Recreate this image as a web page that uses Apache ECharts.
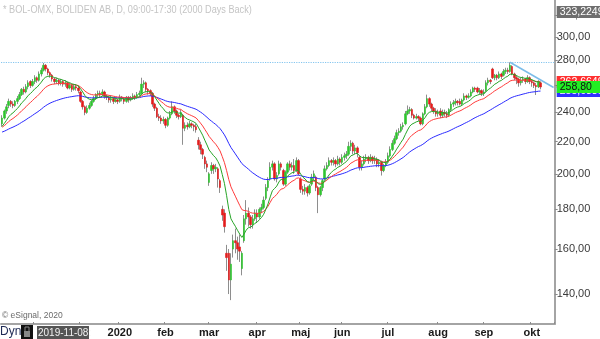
<!DOCTYPE html>
<html>
<head>
<meta charset="utf-8">
<script src="https://cdn.jsdelivr.net/npm/echarts@6/dist/echarts.min.js"></script>
<style>
  html, body { margin: 0; padding: 0; background: #fff; }
  #chart { width: 600px; height: 339px; }
</style>
</head>
<body>
<div id="chart"></div>
<script>
// BOLIDEN AB (BOL-OMX), daily candles: [open, close, low, high], one array per month
const oct2019 = [
  [232,236,230,238],[236,241,235,242],[241,244,239,246],[245,248,243,250],[248,246,244,249],
  [246,245,243,248],[245,248,244,249],[248,250,246,252],[250,253,249,255],[253,257,252,258],
  [257,255,253,259],[255,259,254,261],[259,262,257,264],[263,260,258,264],[260,263,259,265]
];
const nov2019 = [
  [263,266,261,268],[266,264,262,267],[264,269,263,271],[269,272,267,274],[272,276,271,278],
  [276,273,271,277],[273,270,268,274],[270,268,266,271],[268,265,263,269],[265,263,261,266],
  [263,264,261,266],[264,262,260,265],[262,263,260,265],[263,261,259,264],[261,262,259,264],
  [262,258,257,263],[258,260,257,262],[260,257,255,261],[257,259,256,261],[259,258,256,261],
  [258,256,254,260]
];
const dec2019 = [
  [255,248,247,256],[248,244,242,249],[244,240,238,245],[240,243,239,245],[243,245,242,247],
  [245,248,244,249],[248,250,247,252],[250,253,249,254],[253,254,251,256],[254,253,251,256],
  [253,255,252,257],[255,252,250,256],[252,251,249,253],[251,249,247,252],[249,250,247,252],
  [250,248,246,251],[248,249,247,251],[249,248,246,250]
];
const jan2020 = [
  [248,251,247,253],[251,250,248,252],[250,248,246,251],[248,251,247,252],[251,249,247,252],
  [249,250,248,252],[250,252,249,254],[252,251,249,253],[251,253,250,255],[253,254,252,256],
  [254,261,253,266],[261,262,258,264],[262,257,255,263],[257,256,253,258],[256,254,252,257],
  [254,246,244,255],[246,243,241,247],[243,237,236,244],[237,236,234,239],[236,234,232,238],
  [234,235,232,237]
];
const feb2020 = [
  [235,231,229,236],[231,236,230,237],[236,239,235,241],[239,244,238,248],[244,241,239,245],
  [241,238,236,242],[238,237,235,239],[237,240,236,242],[238,229,218,239],[229,231,227,233],
  [231,230,228,233],[230,232,229,234],[232,231,229,233],[231,230,227,232],[230,228,226,232],
  [221,218,215,223],[218,215,212,220],[215,212,209,216],[210,206,203,211],[206,204,201,208]
];
const mar2020 = [
  [195,200,193,201],[202,205,200,207],[205,203,200,206],[203,204,201,206],[203,197,192,204],
  [196,192,189,197],[180,177,174,182],[178,171,168,180],[158,156,150,162],[158,146,140,160],
  [146,153,137.5,158],[160,164,156,167],[164,163,158,170],[163,160,155,166],[161,159,154,167],
  [151,158,148,159],[164,175,163,177],[175,178,172,185],[178,176,171,181],[176,172,170,177],
  [172,175,170,177],[175,178,174,180]
];
const apr2020 = [
  [178,176,173,180],[176,180,175,181],[180,181,178,183],[181,185,180,187],[186,192,185,194],
  [192,196,190,198],[197,204,196,207],[204,206,202,208],[206,197,196,207],[197,199,195,201],
  [200,206,199,208],[206,204,202,207],[202,194,193,203],[194,201,193,202],[201,206,200,207],
  [206,204,202,208],[204,205,202,207],[205,202,200,209],[202,208,201,210],[208,200,199,209]
];
const may2020 = [
  [197,191,189,198],[191,190,188,193],[190,192,188,194],[192,189,187,193],[189,193,188,194],
  [194,198,193,200],[198,200,196,202],[198,192,190,199],[192,188,178,193],[188,192,187,193],
  [192,196,190,197],[197,203,196,205],[203,205,202,207],[205,208,204,210],[208,207,205,209],
  [207,208,205,210],[208,206,204,209],[206,209,205,211],[209,207,205,210]
];
const jun2020 = [
  [207,210,206,212],[210,211,208,213],[211,212,209,214],[212,217,211,220],[217,219,214,221],
  [219,214,212,220],[214,216,212,218],[216,213,210,217],[210,204,202,211],[204,206,202,208],
  [206,209,205,211],[209,210,207,212],[210,208,206,211],[208,210,207,212],[210,208,206,211],
  [208,209,206,211],[209,206,204,210],[206,207,204,209],[207,202,199,208],[202,205,201,206],
  [205,207,204,209]
];
const jul2020 = [
  [207,211,206,213],[211,215,210,217],[215,219,214,221],[219,222,218,224],[222,226,221,228],
  [226,227,224,229],[227,230,226,232],[230,231,228,233],[232,239,231,241],[239,241,238,245],
  [241,242,239,244],[242,238,236,243],[238,236,235,239],[236,237,235,239],[237,236,234,238],
  [236,232,231,237],[232,239,231,240],[239,244,238,246],[244,250,243,253],[250,246,244,251],
  [246,243,241,247],[243,241,239,244],[241,239,237,243]
];
const aug2020 = [
  [239,240,237,242],[241,238,236,243],[238,240,236,242],[240,239,237,242],[239,238,236,241],
  [238,242,237,243],[242,246,241,248],[246,247,244,249],[247,248,245,250],[248,247,245,249],
  [248,246,245,250],[246,249,245,250],[249,252,248,254],[252,251,249,253],[251,252,250,254],
  [252,255,251,257],[255,258,254,259],[258,257,255,259],[258,255,254,259],[255,256,253,258],
  [256,254,252,257]
];
const sep2020 = [
  [254,255,252,257],[256,262,255,264],[262,264,260,266],[264,263,261,265],[273,266,265,274],
  [266,268,264,269],[268,266,264,269],[266,269,265,271],[269,267,265,270],[268,271,267,273],
  [271,272,269,274],[272,271,269,274],[271,276,270,278.5],[275,269,268,276],[269,266,264,270],
  [266,265,261,268],[265,262,259,266],[262,264,260,266],[264,265,262,267],[265,263,261,266],
  [263,266,262,268],[266,263,261,267]
];
const oct2020 = [
  [263,262,259,265],[262,260,258,263],[260,259,252.7,262],[259,263,258,264],[262,258.8,257,263]
];

// Trading calendar (Nasdaq Stockholm closing days skipped)
const firstDay = '2019-10-11';
const lastDay = '2020-10-15';
const holidays = ['2019-12-24','2019-12-25','2019-12-26','2019-12-31','2020-01-01','2020-01-06',
  '2020-04-10','2020-04-13','2020-05-01','2020-05-21','2020-06-19'];
const monthLabels = ['2020','feb','mar','apr','maj','jun','jul','aug','sep','okt','nov','dec'];
const yTicks = [140,160,180,200,220,240,260,280,300,320];

// Chart annotations
const axisTopTag = 323.2249;
const highLine = 278.5;
const trendFrom = [233, 278.5];
const trendTo = [253, 258.4];
const maSeeds = { fast: 229, mid: 229, slow: 226 };

const candles = [].concat(oct2019, nov2019, dec2019, jan2020, feb2020, mar2020,
  apr2020, may2020, jun2020, jul2020, aug2020, sep2020, oct2020);

const dates = [];
(function () {
  const d = new Date(firstDay + 'T00:00:00Z');
  const end = new Date(lastDay + 'T00:00:00Z');
  while (d <= end) {
    const s = d.toISOString().slice(0, 10);
    const wd = d.getUTCDay();
    if (wd !== 0 && wd !== 6 && holidays.indexOf(s) < 0) dates.push(s);
    d.setUTCDate(d.getUTCDate() + 1);
  }
})();

// indices where a new month begins
const monthStart = {};
for (let i = 1; i < dates.length; i++) {
  if (dates[i].slice(5, 7) !== dates[i - 1].slice(5, 7)) monthStart[i] = true;
}

function ema(period, seed) {
  const k = 2 / (period + 1);
  let e = seed;
  return candles.map(c => { e = e + k * (c[1] - e); return +e.toFixed(4); });
}
const maFast = ema(10, maSeeds.fast);
const maMid = ema(20, maSeeds.mid);
const maSlow = ema(50, maSeeds.slow);
const lastClose = candles[candles.length - 1][1];

const bodies = candles.map(c => [c[0], c[1], Math.min(c[0], c[1]), Math.max(c[0], c[1])]);

const fmt = (v, d) => v.toFixed(d).replace('.', ',');
const FONT = '"Liberation Sans", Arial, sans-serif';

// price tag drawn at the right-hand end of an invisible horizontal mark line
function tag(value, bg, fg, digits) {
  return {
    yAxis: value,
    lineStyle: { width: 0, color: 'rgba(0,0,0,0)' },
    label: {
      show: true, position: 'end', distance: 2,
      formatter: fmt(value, digits),
      backgroundColor: bg, color: fg,
      fontFamily: FONT, fontSize: 10.5, lineHeight: 12,
      padding: [0, 30, 0, 3]
    }
  };
}

const chart = echarts.init(document.getElementById('chart'), null, { renderer: 'canvas' });
chart.setOption({
  animation: false,
  backgroundColor: '#fff',
  grid: { left: 1, top: 0, width: 553.7, bottom: 15, containLabel: false },
  xAxis: {
    type: 'category',
    data: dates,
    boundaryGap: true,
    axisLine: { lineStyle: { color: '#a4a4a4', width: 2 } },
    axisTick: {
      show: true, inside: true, length: 2,
      interval: (i) => !!monthStart[i],
      lineStyle: { color: '#8c8c8c' }
    },
    axisLabel: {
      interval: (i) => !!monthStart[i],
      formatter: (v) => v.slice(0, 4) === '2019' ? '' : monthLabels[+v.slice(5, 7) - 1],
      color: '#1a1a1a', fontWeight: 'bold', fontFamily: FONT, fontSize: 11, margin: 3
    },
    splitLine: { show: false }
  },
  yAxis: {
    type: 'log',
    logBase: 10,
    position: 'right',
    min: 128.1,
    max: 335,
    axisLine: { show: true, lineStyle: { color: '#a4a4a4', width: 2 } },
    axisTick: { show: true, length: 3, customValues: yTicks, lineStyle: { color: '#8c8c8c' } },
    axisLabel: {
      customValues: yTicks,
      formatter: (v) => fmt(v, 2),
      color: '#3a3a3a', fontFamily: FONT, fontSize: 11, margin: 2
    },
    splitLine: { show: false }
  },
  graphic: [
    { type: 'text', x: 3, y: 5, scaleX: 0.87, z: 10,
      style: { text: '* BOL-OMX, BOLIDEN AB, D, 09:00-17:30 (2000 Days Back)', fill: '#c4c4c4', font: '10.5px ' + FONT } },
    { type: 'text', x: 2, y: 311, z: 10,
      style: { text: '\u00a9 eSignal, 2020', fill: '#6a6a6a', font: '8.5px ' + FONT } },
    { type: 'text', x: 0, y: 326, z: 10,
      style: { text: 'Dyn', fill: '#1e2a55', font: '12px ' + FONT } },
    { type: 'rect', shape: { x: 21, y: 325, width: 12, height: 14 }, z: 10, style: { fill: '#111' } },
    { type: 'rect', shape: { x: 24, y: 331, width: 6, height: 6 }, z: 11, style: { fill: '#888' } },
    { type: 'rect', shape: { x: 25, y: 327, width: 4, height: 5 }, z: 11, style: { fill: 'none', stroke: '#888', lineWidth: 1 } },
    { type: 'rect', shape: { x: 37, y: 326, width: 52, height: 13 }, z: 10, style: { fill: '#555' } },
    { type: 'text', x: 38, y: 328, z: 11,
      style: { text: '2019-11-08:', fill: '#f2f2f2', font: '10px ' + FONT } }
  ],
  series: [
    {
      name: 'wick', type: 'candlestick', data: candles, barWidth: 1, z: 2,
      itemStyle: { color: '#8e8e8e', color0: '#8e8e8e', borderColor: '#8e8e8e', borderColor0: '#8e8e8e', borderWidth: 1 }
    },
    {
      name: 'body', type: 'candlestick', data: bodies, barWidth: 2, z: 3,
      itemStyle: { color: '#2fc42f', color0: '#e31c1c', borderColor: '#2fc42f', borderColor0: '#e31c1c', borderWidth: 0.6 },
      markLine: {
        silent: true, symbol: ['none', 'none'], animation: false,
        data: [
          { yAxis: highLine, lineStyle: { color: '#86c6ef', type: 'dotted', width: 1.2 }, label: { show: false } },
          tag(axisTopTag, '#6e6e6e', '#ffffff', 4),
          tag(maSlow[maSlow.length - 1], '#3030ff', '#ffffff', 5),
          tag(maMid[maMid.length - 1], '#ff3030', '#ffffff', 5),
          tag(lastClose, '#22ee22', '#111111', 2)
        ]
      }
    },
    { name: 'EMA50', type: 'line', data: maSlow, symbol: 'none', z: 4, lineStyle: { color: '#2b2bff', width: 1 } },
    { name: 'EMA20', type: 'line', data: maMid, symbol: 'none', z: 4, lineStyle: { color: '#ff3b3b', width: 1 } },
    { name: 'EMA10', type: 'line', data: maFast, symbol: 'none', z: 4, lineStyle: { color: '#27a527', width: 1 } },
    { name: 'trend', type: 'line', data: [trendFrom, trendTo], symbol: 'none', z: 5, lineStyle: { color: '#7cbde9', width: 1.5 } }
  ]
});
</script>
</body>
</html>
